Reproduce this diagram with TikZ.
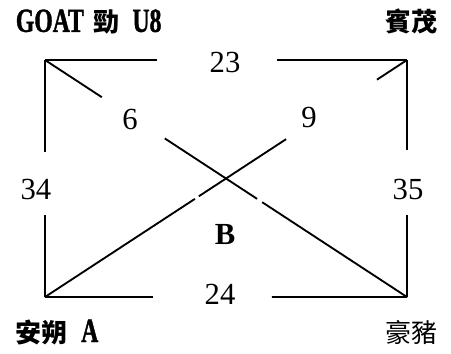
\documentclass[tikz,border=0pt]{standalone}
\usepackage{fontspec}
\setmainfont{Liberation Serif}
\newfontfamily\cjk{Noto Sans CJK TC}
\newfontfamily\narrow[Scale=1.3,FakeStretch=0.7,FakeBold=1.2]{Liberation Serif Bold}

\usetikzlibrary{calc,positioning}

\begin{document}
\begin{tikzpicture}[x=0.75pt,y=-0.75pt,line width=1.4pt,
    num/.style={inner sep=0pt,font=\fontsize{23}{27}\selectfont},
    site/.style={inner sep=0pt,font=\fontsize{19.5}{24}\selectfont}]
    \useasboundingbox (0,0) rectangle (451,354);

    % corners of the frame
    \coordinate (tl) at (45,60);
    \coordinate (tr) at (407,60);
    \coordinate (bl) at (45,297);
    \coordinate (br) at (407,297);

    % frame, broken where the numbers sit
    \draw (tl) -- ($(tl)!0.309!(tr)$);
    \draw ($(tl)!0.641!(tr)$) -- (tr);
    \draw (bl) -- ($(bl)!0.298!(br)$);
    \draw ($(bl)!0.627!(br)$) -- (br);
    \draw (tl) -- ($(tl)!0.388!(bl)$);
    \draw ($(tl)!0.654!(bl)$) -- (bl);
    \draw (tr) -- ($(tr)!0.380!(br)$);
    \draw ($(tr)!0.654!(br)$) -- (br);

    % diagonals
    \draw (tl) -- ($(tl)!0.157!(br)$);
    \draw ($(tl)!0.331!(br)$) -- ($(tl)!0.586!(br)$);
    \draw ($(tl)!0.600!(br)$) -- (br);
    \draw (bl) -- ($(bl)!0.414!(tr)$);
    \draw ($(bl)!0.425!(tr)$) -- ($(bl)!0.666!(tr)$);
    \draw ($(bl)!0.917!(tr)$) -- (tr);

    % numbers
    \node[num] (n23) at (225,62) {23};
    \node[num] (n24) at (220,294) {24};
    \node[num] (n34) at (36,189) {34};
    \node[num] (n35) at (408,189) {35};
    \node[num] (n6) at (130,119) {6};
    \node[num] (n9) at (309,117) {9};
    \node[num,font=\fontsize{23}{27}\selectfont\bfseries] (b) at (225,235) {B};

    % sites
    \node[site,anchor=west] (goat) at (15,22)
      {\narrow GOAT\hspace{7pt}\cjk\bfseries 勁\hspace{10pt}\narrow U8};
    \node[site] (binmao) at (411,21) {\cjk\bfseries 賓茂};
    \node[site,anchor=west] (anshuo) at (15,332)
      {\cjk\bfseries 安朔\hspace{10pt}\narrow A};
    \node[site] (haozhu) at (411,333) {\cjk 豪豬};
\end{tikzpicture}
\end{document}
